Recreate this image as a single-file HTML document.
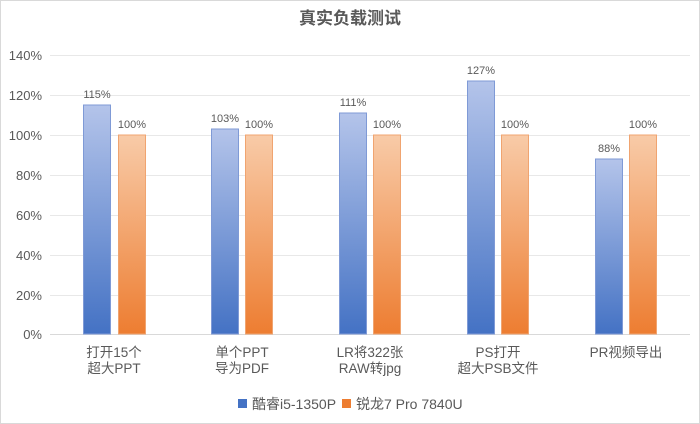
<!DOCTYPE html>
<html><head><meta charset="utf-8"><style>
body{margin:0;background:#fff}
svg{display:block}
text{font-family:"Liberation Sans","Noto Sans CJK SC",sans-serif;fill:#595959}
</style></head><body>
<svg width="700" height="424" viewBox="0 0 700 424">
<defs>
<linearGradient id="b" x1="0" y1="0" x2="0" y2="1"><stop offset="0" stop-color="#b4c4ea"/><stop offset="1" stop-color="#4472c4"/></linearGradient>
<linearGradient id="o" x1="0" y1="0" x2="0" y2="1"><stop offset="0" stop-color="#f8cba8"/><stop offset="1" stop-color="#ed7d31"/></linearGradient>
</defs>
<rect x="0.5" y="0.5" width="699" height="423" fill="#fff" stroke="#d9d9d9"/>
<text x="350" y="24" text-anchor="middle" font-size="17" font-weight="bold" fill="#404040">真实负载测试</text>
<g stroke="#e8e8e8" stroke-width="1">
<line x1="50" x2="690" y1="55.5" y2="55.5"/><line x1="50" x2="690" y1="95.5" y2="95.5"/>
<line x1="50" x2="690" y1="135.5" y2="135.5"/><line x1="50" x2="690" y1="175.5" y2="175.5"/>
<line x1="50" x2="690" y1="215.5" y2="215.5"/><line x1="50" x2="690" y1="255.5" y2="255.5"/>
<line x1="50" x2="690" y1="295.5" y2="295.5"/>
</g>
<line x1="50" x2="690" y1="334.5" y2="334.5" stroke="#d9d9d9"/>
<g font-size="13" text-anchor="end">
<text x="42" y="60">140%</text><text x="42" y="100">120%</text><text x="42" y="140">100%</text>
<text x="42" y="180">80%</text><text x="42" y="220">60%</text><text x="42" y="260">40%</text>
<text x="42" y="300">20%</text><text x="42" y="339">0%</text>
</g>
<g stroke-width="1">
<rect x="83.5" y="105" width="27" height="229" fill="url(#b)" stroke="#7f9ad6"/>
<rect x="118.5" y="135" width="27" height="199" fill="url(#o)" stroke="#f0a470"/>
<rect x="211.5" y="129" width="27" height="205" fill="url(#b)" stroke="#7f9ad6"/>
<rect x="245.5" y="135" width="27" height="199" fill="url(#o)" stroke="#f0a470"/>
<rect x="339.5" y="113" width="27" height="221" fill="url(#b)" stroke="#7f9ad6"/>
<rect x="373.5" y="135" width="27" height="199" fill="url(#o)" stroke="#f0a470"/>
<rect x="467.5" y="81" width="27" height="253" fill="url(#b)" stroke="#7f9ad6"/>
<rect x="501.5" y="135" width="27" height="199" fill="url(#o)" stroke="#f0a470"/>
<rect x="595.5" y="159" width="27" height="175" fill="url(#b)" stroke="#7f9ad6"/>
<rect x="629.5" y="135" width="27" height="199" fill="url(#o)" stroke="#f0a470"/>
</g>
<g font-size="11" text-anchor="middle" fill="#404040">
<text x="97" y="98">115%</text><text x="132" y="128">100%</text>
<text x="225" y="122">103%</text><text x="259" y="128">100%</text>
<text x="353" y="106">111%</text><text x="387" y="128">100%</text>
<text x="481" y="74">127%</text><text x="515" y="128">100%</text>
<text x="609" y="152">88%</text><text x="643" y="128">100%</text>
</g>
<g font-size="13.5" text-anchor="middle">
<text x="114" y="357">打开15个</text><text x="114" y="373">超大PPT</text>
<text x="242" y="357">单个PPT</text><text x="242" y="373">导为PDF</text>
<text x="370" y="357">LR将322张</text><text x="370" y="373">RAW转jpg</text>
<text x="498" y="357">PS打开</text><text x="498" y="373">超大PSB文件</text>
<text x="626" y="357">PR视频导出</text>
</g>
<rect x="238" y="399" width="9" height="9" fill="#4472c4"/>
<text x="252" y="409" font-size="14">酷睿i5-1350P</text>
<rect x="342" y="399" width="9" height="9" fill="#ed7d31"/>
<text x="356" y="409" font-size="14">锐龙7 Pro 7840U</text>
</svg>
</body></html>
